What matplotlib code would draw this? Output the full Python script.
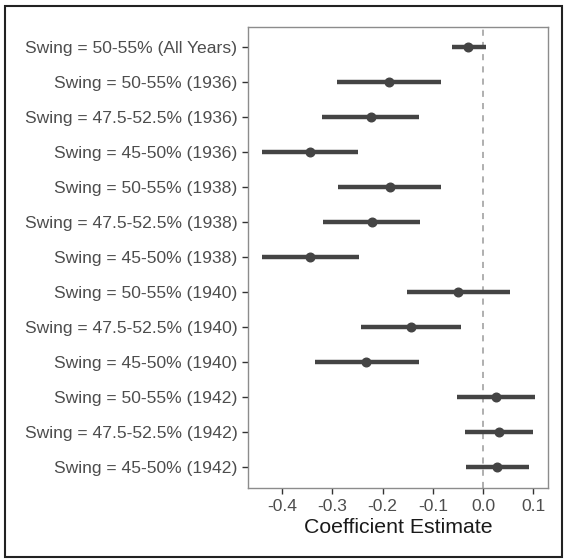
import matplotlib.pyplot as plt
from matplotlib.patches import Rectangle

# rows from top to bottom
labels = ["Swing = 50-55% (All Years)",
          "Swing = 50-55% (1936)", "Swing = 47.5-52.5% (1936)", "Swing = 45-50% (1936)",
          "Swing = 50-55% (1938)", "Swing = 47.5-52.5% (1938)", "Swing = 45-50% (1938)",
          "Swing = 50-55% (1940)", "Swing = 47.5-52.5% (1940)", "Swing = 45-50% (1940)",
          "Swing = 50-55% (1942)", "Swing = 47.5-52.5% (1942)", "Swing = 45-50% (1942)"]
est = [-0.029, -0.187, -0.224, -0.345, -0.186, -0.222, -0.344,
       -0.049, -0.144, -0.232, 0.026, 0.032, 0.028]
lo = [-0.062, -0.290, -0.320, -0.441, -0.289, -0.319, -0.440,
      -0.151, -0.243, -0.334, -0.052, -0.036, -0.033]
hi = [0.006, -0.084, -0.127, -0.248, -0.083, -0.126, -0.247,
      0.053, -0.044, -0.127, 0.104, 0.100, 0.091]

plt.rcParams['font.family'] = ['Liberation Sans', 'DejaVu Sans']

fig = plt.figure(figsize=(5.64, 5.59), dpi=100)
ax = fig.add_axes([248/564, 1-488/559, 300/564, 461/559])

ypos = list(range(1, len(labels)+1))
ax.axvline(0, color='#9a9a9a', ls=(0, (4, 4)), lw=1.1, zorder=1)
ax.hlines(ypos, lo, hi, color='#444444', lw=3.2, zorder=2)
ax.plot(est, ypos, 'o', color='#444444', ms=6.2, zorder=3)

ax.set_ylim(13.6, 0.43)
ax.set_xlim(-0.468, 0.1295)
ax.set_yticks(ypos)
ax.set_yticklabels(labels)
ax.set_xticks([-0.4, -0.3, -0.2, -0.1, 0.0, 0.1])
ax.set_xticklabels(['-0.4', '-0.3', '-0.2', '-0.1', '0.0', '0.1'])
ax.tick_params(axis='both', colors='#333333', labelcolor='#4d4d4d',
               labelsize=12.6, length=4, width=1)
ax.tick_params(axis='x', pad=4)
ax.set_xlabel("Coefficient Estimate", fontsize=15.3, color='#1a1a1a', labelpad=3)
for s in ax.spines.values():
    s.set_color('#8c8c8c')
    s.set_linewidth(1)

fig.patches.append(Rectangle((5/564, 2/559), 557/564, 551/559, transform=fig.transFigure,
                             fill=False, edgecolor='#222222', lw=1.5))

fig.savefig("out.png", dpi=100)
